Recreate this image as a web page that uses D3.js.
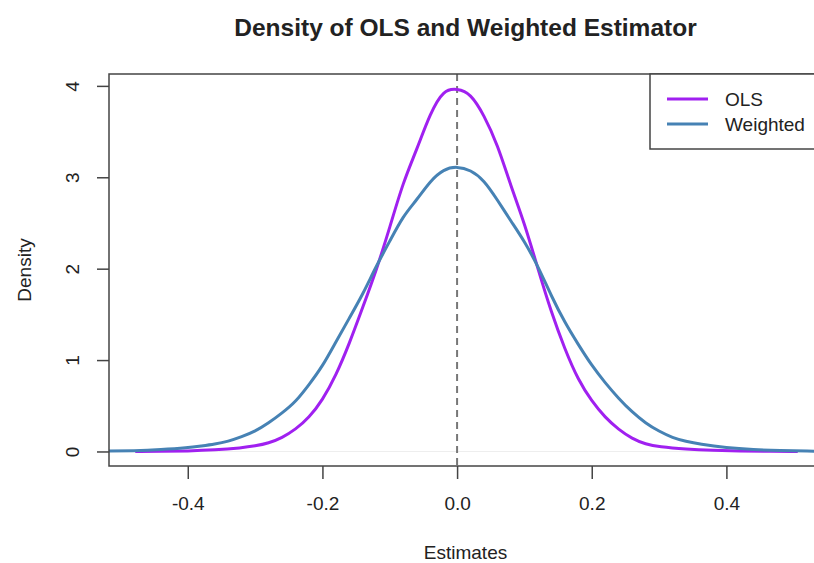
<!DOCTYPE html>
<html>
<head>
<meta charset="utf-8">
<script src="https://cdn.jsdelivr.net/npm/d3@7"></script>
<style>
  body { margin: 0; background: #fff; }
  text { font-family: "Liberation Sans", Arial, sans-serif; fill: #222; }
</style>
</head>
<body>
<div id="chart"></div>
<script>
// density estimates
const olsX = [-0.478, -0.44, -0.40, -0.36, -0.32, -0.30, -0.28, -0.26, -0.24, -0.22, -0.20, -0.18, -0.16, -0.14, -0.12, -0.10, -0.08, -0.06, -0.04, -0.02, 0.00, 0.02, 0.04, 0.06, 0.08, 0.10, 0.12, 0.14, 0.16, 0.18, 0.20, 0.22, 0.24, 0.26, 0.28, 0.30, 0.34, 0.38, 0.42, 0.46, 0.506];
const olsY = [0.0, 0.002, 0.005, 0.015, 0.04, 0.06, 0.09, 0.15, 0.24, 0.37, 0.56, 0.83, 1.18, 1.58, 1.98, 2.45, 2.95, 3.30, 3.70, 3.96, 3.97, 3.92, 3.68, 3.36, 2.90, 2.50, 2.00, 1.52, 1.12, 0.78, 0.55, 0.37, 0.24, 0.14, 0.08, 0.05, 0.025, 0.012, 0.005, 0.002, 0.0];

const wX = [-0.56, -0.52, -0.48, -0.44, -0.40, -0.38, -0.36, -0.34, -0.32, -0.30, -0.28, -0.26, -0.24, -0.22, -0.20, -0.18, -0.16, -0.14, -0.12, -0.10, -0.08, -0.06, -0.04, -0.02, 0.00, 0.02, 0.04, 0.06, 0.08, 0.10, 0.12, 0.14, 0.16, 0.18, 0.20, 0.22, 0.24, 0.26, 0.28, 0.30, 0.32, 0.34, 0.36, 0.40, 0.44, 0.48, 0.52, 0.56];
const wY = [0.0, 0.003, 0.008, 0.02, 0.04, 0.06, 0.08, 0.11, 0.16, 0.22, 0.31, 0.42, 0.54, 0.73, 0.93, 1.20, 1.46, 1.72, 2.03, 2.30, 2.58, 2.75, 2.96, 3.09, 3.12, 3.08, 2.97, 2.75, 2.52, 2.30, 2.03, 1.70, 1.41, 1.17, 0.94, 0.75, 0.58, 0.43, 0.31, 0.22, 0.15, 0.11, 0.08, 0.04, 0.02, 0.01, 0.004, 0.0];

const xTicks = [-0.4, -0.2, 0.0, 0.2, 0.4];
const yTicks = [0, 1, 2, 3, 4];
const seriesNames = ["OLS", "Weighted"];
const seriesColors = ["#A020F0", "#4682B4"];

const W = 814, H = 563;
const pL = 109, pR = 822, pT = 74, pB = 466;

const svg = d3.select("#chart").append("svg")
  .attr("width", W).attr("height", H);

const x = d3.scaleLinear().domain([-0.517, 0.542]).range([pL, pR]);
const y = d3.scaleLinear().domain([-0.159, 4.13]).range([pB, pT]);

svg.append("defs").append("clipPath").attr("id", "plotclip")
  .append("rect").attr("x", pL).attr("y", pT)
  .attr("width", pR - pL).attr("height", pB - pT);

const plot = svg.append("g").attr("clip-path", "url(#plotclip)");

// faint zero line
plot.append("line")
  .attr("x1", pL).attr("x2", pR)
  .attr("y1", y(0)).attr("y2", y(0))
  .attr("stroke", "#eeeeee").attr("stroke-width", 1);

// dashed line at 0
plot.append("line")
  .attr("x1", x(0)).attr("x2", x(0))
  .attr("y1", pT).attr("y2", pB)
  .attr("stroke", "#777").attr("stroke-width", 2)
  .attr("stroke-dasharray", "7,5");

const line = d3.line()
  .x(d => x(d[0])).y(d => y(d[1]))
  .curve(d3.curveBasis);

plot.append("path")
  .datum(d3.zip(olsX, olsY))
  .attr("d", line)
  .attr("fill", "none")
  .attr("stroke", seriesColors[0])
  .attr("stroke-width", 3);

plot.append("path")
  .datum(d3.zip(wX, wY))
  .attr("d", line)
  .attr("fill", "none")
  .attr("stroke", seriesColors[1])
  .attr("stroke-width", 3);

// box
svg.append("rect")
  .attr("x", pL).attr("y", pT)
  .attr("width", pR - pL).attr("height", pB - pT)
  .attr("fill", "none").attr("stroke", "#444").attr("stroke-width", 1.5);

// x axis
const fmt = d3.format(".1f");
const xAxis = d3.axisBottom(x).tickValues(xTicks).tickSize(13).tickPadding(18)
  .tickFormat(d => fmt(d).replace("\u2212", "-"));
const gx = svg.append("g").attr("transform", `translate(0,${pB})`).call(xAxis);
gx.select(".domain").remove();
gx.selectAll("line").attr("stroke", "#444").attr("stroke-width", 1.5);
gx.selectAll("text").attr("font-size", 19).attr("fill", "#222")
  .style("font-family", "'Liberation Sans', Arial, sans-serif");

// y axis
const yAxis = d3.axisLeft(y).tickValues(yTicks).tickSize(12).tickPadding(0)
  .tickFormat(d3.format("d"));
const gy = svg.append("g").attr("transform", `translate(${pL},0)`).call(yAxis);
gy.select(".domain").remove();
gy.selectAll("line").attr("stroke", "#444").attr("stroke-width", 1.5);
gy.selectAll("text")
  .attr("font-size", 19).attr("fill", "#222")
  .attr("x", null)
  .attr("text-anchor", "middle")
  .attr("transform", "translate(-37,0) rotate(-90)")
  .attr("dy", "0.35em")
  .style("font-family", "'Liberation Sans', Arial, sans-serif");

// title and axis labels
const midX = (pL + pR) / 2;
svg.append("text").attr("x", midX).attr("y", 36)
  .attr("text-anchor", "middle").attr("font-size", 24.5).attr("font-weight", "bold")
  .attr("fill", "#111")
  .text("Density of OLS and Weighted Estimator");

svg.append("text").attr("x", midX).attr("y", 559)
  .attr("text-anchor", "middle").attr("font-size", 19)
  .text("Estimates");

svg.append("text")
  .attr("transform", `translate(31,${(pT + pB) / 2}) rotate(-90)`)
  .attr("text-anchor", "middle").attr("font-size", 19)
  .text("Density");

// legend
const lg = svg.append("g");
lg.append("rect").attr("x", 650).attr("y", pT).attr("width", 200).attr("height", 75)
  .attr("fill", "#fff").attr("stroke", "#444").attr("stroke-width", 1.5);
seriesNames.forEach((name, i) => {
  const ly = 99 + i * 25;
  lg.append("line").attr("x1", 667).attr("x2", 708).attr("y1", ly).attr("y2", ly)
    .attr("stroke", seriesColors[i]).attr("stroke-width", 3);
  lg.append("text").attr("x", 725).attr("y", ly).attr("dy", "0.35em")
    .attr("font-size", 19).text(name);
});
</script>
</body>
</html>
